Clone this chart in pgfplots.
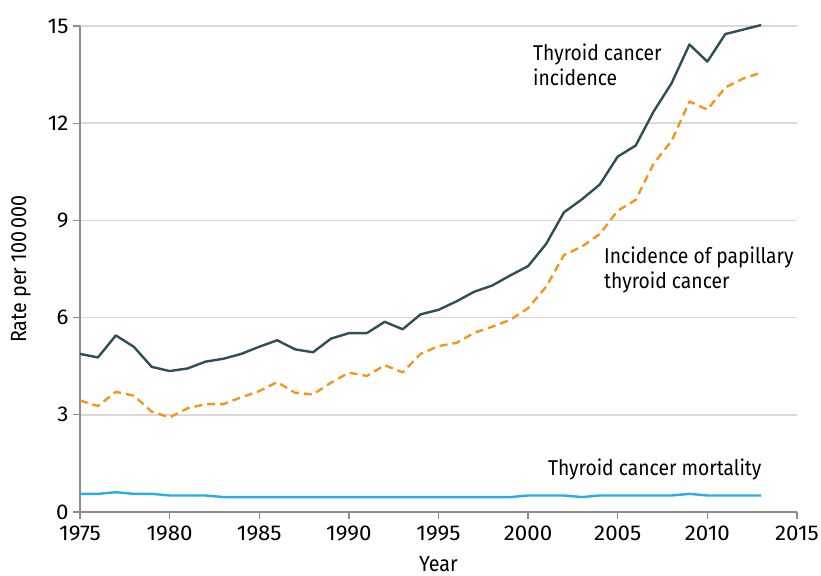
\documentclass[border=0pt]{standalone}
\usepackage{pgfplots}
\pgfplotsset{compat=1.18}
\usepackage{fontspec}
\setmainfont[FakeStretch=0.9]{Fira Sans}
\newfontfamily\tickfont[FakeStretch=1.04]{Fira Sans}
\definecolor{incid}{RGB}{46,78,88}
\definecolor{papil}{RGB}{247,148,29}
\definecolor{mort}{RGB}{40,174,230}
\definecolor{gridc}{RGB}{217,217,217}
\definecolor{spine}{RGB}{140,140,140}
\begin{document}
\begin{tikzpicture}[x=1bp,y=1bp]
\begin{axis}[
  scale only axis, width=717bp, height=486bp,
  xmin=1975, xmax=2015, ymin=0, ymax=15,
  xtick={1975,1980,...,2015}, ytick={0,3,...,15},
  axis x line*=bottom, axis y line*=left,
  axis line style={spine, line width=1.3bp, -},
  tick style={spine, line width=1.3bp},
  tick align=outside, major tick length=7bp,
  ymajorgrids, grid style={gridc, line width=1.5bp},
  x tick label style={/pgf/number format/1000 sep={}},
  /pgf/number format/assume math mode=true,
  tick label style={font=\tickfont\fontsize{21.5}{24}\selectfont, black},
  xticklabel style={yshift=-3bp},
  yticklabel style={xshift=-1bp},
  label style={font=\fontsize{22}{25}\selectfont},
  xlabel={Year}, ylabel={Rate per 100\,000},
  xlabel style={yshift=-9bp},
  ylabel style={yshift=10bp},
  clip=false,
]
\addplot[incid, line width=2.4bp, line join=round] coordinates {
(1975,4.88) (1976,4.77) (1977,5.45) (1978,5.10) (1979,4.48) (1980,4.35)
(1981,4.43) (1982,4.64) (1983,4.73) (1984,4.88) (1985,5.10) (1986,5.30)
(1987,5.02) (1988,4.93) (1989,5.35) (1990,5.52) (1991,5.52) (1992,5.87)
(1993,5.64) (1994,6.10) (1995,6.24) (1996,6.50) (1997,6.80) (1998,6.99)
(1999,7.30) (2000,7.59) (2001,8.27) (2002,9.25) (2003,9.65) (2004,10.11)
(2005,10.97) (2006,11.31) (2007,12.36) (2008,13.23) (2009,14.43) (2010,13.90)
(2011,14.75) (2012,14.89) (2013,15.03)};
\addplot[papil, line width=2.4bp, dash pattern=on 8bp off 5bp, line join=round] coordinates {
(1975,3.44) (1976,3.27) (1977,3.71) (1978,3.59) (1979,3.10) (1980,2.92)
(1981,3.20) (1982,3.33) (1983,3.33) (1984,3.54) (1985,3.73) (1986,4.01)
(1987,3.68) (1988,3.63) (1989,3.99) (1990,4.30) (1991,4.20) (1992,4.53)
(1993,4.31) (1994,4.88) (1995,5.12) (1996,5.22) (1997,5.53) (1998,5.72)
(1999,5.93) (2000,6.29) (2001,6.95) (2002,7.93) (2003,8.19) (2004,8.58)
(2005,9.30) (2006,9.63) (2007,10.75) (2008,11.45) (2009,12.67) (2010,12.42)
(2011,13.10) (2012,13.38) (2013,13.56)};
\addplot[mort, line width=2.4bp, line join=round] coordinates {
(1975,0.56) (1976,0.56) (1977,0.61) (1978,0.56) (1979,0.56) (1980,0.51)
(1981,0.51) (1982,0.51) (1983,0.46) (1984,0.46) (1985,0.46) (1986,0.46)
(1987,0.46) (1988,0.46) (1989,0.46) (1990,0.46) (1991,0.46) (1992,0.46)
(1993,0.46) (1994,0.46) (1995,0.46) (1996,0.46) (1997,0.46) (1998,0.46)
(1999,0.46) (2000,0.51) (2001,0.51) (2002,0.51) (2003,0.46) (2004,0.51)
(2005,0.51) (2006,0.51) (2007,0.51) (2008,0.51) (2009,0.56) (2010,0.51)
(2011,0.51) (2012,0.51) (2013,0.51)};
\node[anchor=west, align=left, font=\fontsize{21.5}{25}\selectfont, inner sep=0pt] at (axis cs:2000.27,13.81) {Thyroid cancer\\incidence};
\node[anchor=west, align=left, font=\fontsize{21.5}{25}\selectfont, inner sep=0pt] at (axis cs:2004.23,7.47) {Incidence of papillary\\thyroid cancer};
\node[anchor=west, align=left, font=\fontsize{21.5}{25}\selectfont, inner sep=0pt] at (axis cs:2001.1,1.30) {Thyroid cancer mortality};
\end{axis}
\pgfresetboundingbox
\path[use as bounding box] (-80bp,-64bp) rectangle (741bp,512bp);
\end{tikzpicture}
\end{document}
